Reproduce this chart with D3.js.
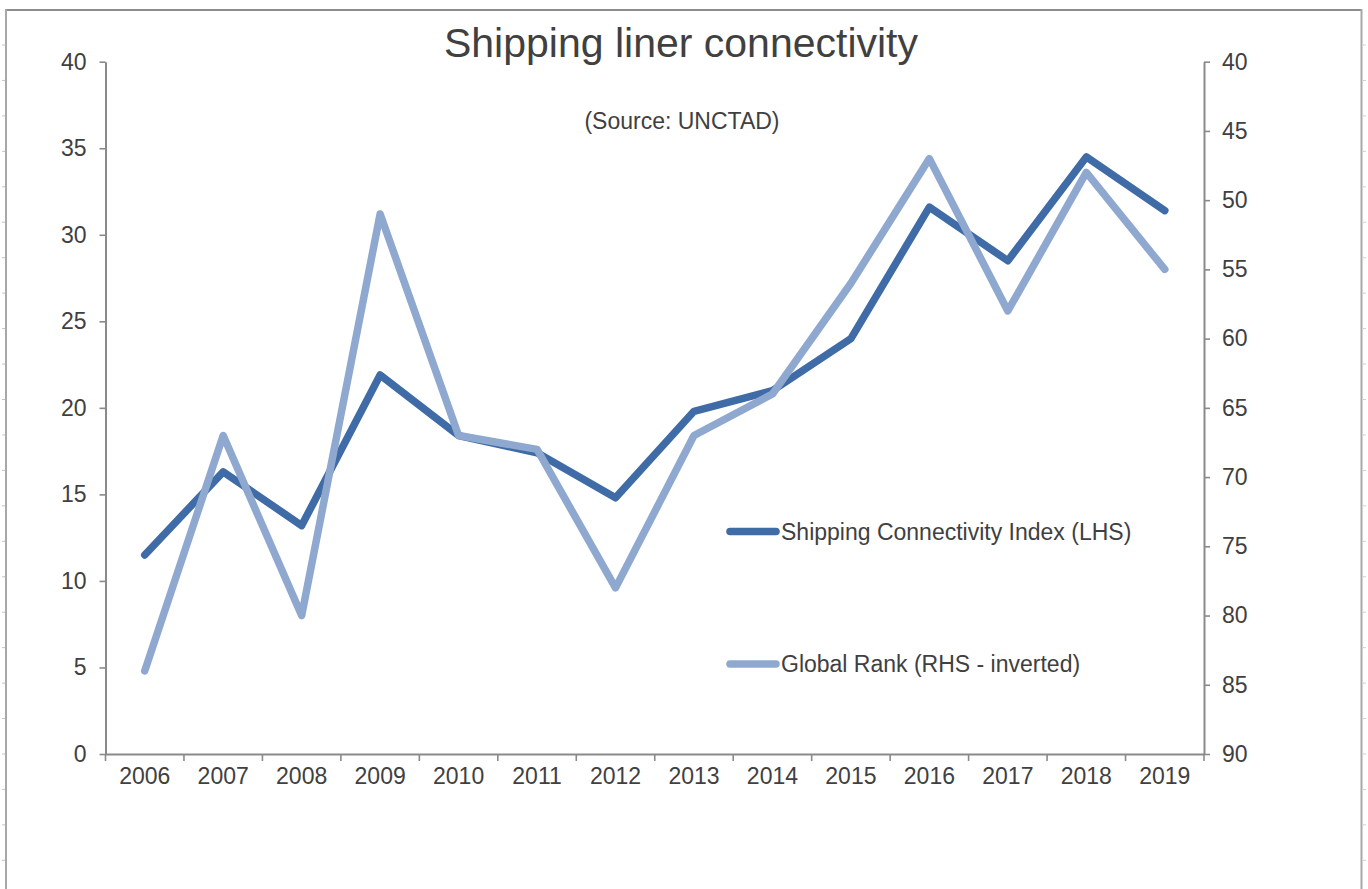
<!DOCTYPE html>
<html>
<head>
<meta charset="utf-8">
<title>Shipping liner connectivity</title>
<script src="https://cdn.jsdelivr.net/npm/d3@7"></script>
<style>
  html, body { margin: 0; padding: 0; background: #ffffff; }
  svg { display: block; }
  text { font-family: "Liberation Sans", Arial, Helvetica, sans-serif; fill: #404040; }
</style>
</head>
<body>
<svg id="chart" width="1368" height="889"></svg>
<script>
// Years on the category axis
const years = ["2006", "2007", "2008", "2009", "2010", "2011", "2012",
               "2013", "2014", "2015", "2016", "2017", "2018", "2019"];

// Liner Shipping Connectivity Index (left-hand scale)
const connectivityIndex = [11.5, 16.3, 13.2, 21.9, 18.4, 17.4, 14.8,
                           19.8, 21.0, 24.0, 31.6, 28.5, 34.5, 31.4];

// Global rank (right-hand scale, inverted)
const globalRank = [84, 67, 80, 51, 67, 68, 78, 67, 64, 56, 47, 58, 48, 55];

// Axis tick values
const leftTicks = [0, 5, 10, 15, 20, 25, 30, 35, 40];
const rightTicks = [40, 45, 50, 55, 60, 65, 70, 75, 80, 85, 90];

// Series names for the legend
const seriesNames = ["Shipping Connectivity Index (LHS)", "Global Rank (RHS - inverted)"];

const W = 1368, H = 889;
const plot = { left: 105.5, right: 1204, top: 61.7, bottom: 754 };
const darkBlue = "#3f6ba6";
const lightBlue = "#8fa8cf";
const axisGrey = "#8a8a8a";

const svg = d3.select("#chart");

// Page frame with ruler ticks along the side edges
const frame = svg.append("g");
frame.append("line").attr("x1", 6).attr("x2", 1362).attr("y1", 10).attr("y2", 10)
  .attr("stroke", "#8c8c8c").attr("stroke-width", 2);
frame.append("line").attr("x1", 6).attr("x2", 6).attr("y1", 9).attr("y2", H)
  .attr("stroke", "#a8a8a8").attr("stroke-width", 2);
frame.append("line").attr("x1", 1361.5).attr("x2", 1361.5).attr("y1", 9).attr("y2", H)
  .attr("stroke", "#a8a8a8").attr("stroke-width", 2);
const rulerY = d3.range(45, H, 35.45);
frame.selectAll(".rl").data(rulerY).join("line")
  .attr("x1", 2).attr("x2", 5).attr("y1", d => d).attr("y2", d => d)
  .attr("stroke", "#c4c4c4").attr("stroke-width", 1);
frame.selectAll(".rr").data(rulerY).join("line")
  .attr("x1", 1363).attr("x2", 1366).attr("y1", d => d).attr("y2", d => d)
  .attr("stroke", "#d0d0d0").attr("stroke-width", 1);

// Scales
const x = d3.scaleBand().domain(years).range([plot.left, plot.right]).padding(0);
const yLeft = d3.scaleLinear().domain([0, 40]).range([plot.bottom, plot.top]);
const yRight = d3.scaleLinear().domain([40, 90]).range([plot.top, plot.bottom]);
const cx = d => x(d) + x.bandwidth() / 2;

// Left axis
const gLeft = svg.append("g").attr("transform", `translate(${plot.left},0)`)
  .call(d3.axisLeft(yLeft).tickValues(leftTicks).tickSize(6).tickPadding(13).tickSizeOuter(0));
// Right axis
const gRight = svg.append("g").attr("transform", `translate(${plot.right},0)`)
  .call(d3.axisRight(yRight).tickValues(rightTicks).tickSize(6).tickPadding(12).tickSizeOuter(0));
// Bottom axis: labels centred in each band, ticks on band boundaries
const gBottom = svg.append("g").attr("transform", `translate(0,${plot.bottom})`)
  .call(d3.axisBottom(x).tickSize(0).tickPadding(14).tickSizeOuter(0));
const boundaries = years.map(y => x(y)).concat([plot.right]);
gBottom.selectAll(".bt").data(boundaries).join("line")
  .attr("x1", d => d).attr("x2", d => d).attr("y1", 0).attr("y2", 7)
  .attr("stroke", axisGrey).attr("stroke-width", 1.6);

[gLeft, gRight, gBottom].forEach(g => {
  g.select(".domain").attr("stroke", axisGrey).attr("stroke-width", 2);
  g.selectAll(".tick line").attr("stroke", axisGrey).attr("stroke-width", 1.6);
  g.selectAll(".tick text")
    .attr("font-family", "'Liberation Sans', Arial, Helvetica, sans-serif")
    .attr("font-size", 23).attr("fill", "#404040");
});

// Series lines
const lineLeft = d3.line().x((d, i) => cx(years[i])).y(d => yLeft(d));
const lineRight = d3.line().x((d, i) => cx(years[i])).y(d => yRight(d));

svg.append("path").datum(connectivityIndex)
  .attr("d", lineLeft).attr("fill", "none").attr("stroke", darkBlue)
  .attr("stroke-width", 7.5).attr("stroke-linecap", "round").attr("stroke-linejoin", "round");

svg.append("path").datum(globalRank)
  .attr("d", lineRight).attr("fill", "none").attr("stroke", lightBlue)
  .attr("stroke-width", 7.5).attr("stroke-linecap", "round").attr("stroke-linejoin", "round");

// Titles
svg.append("text").attr("x", 681).attr("y", 57).attr("text-anchor", "middle")
  .attr("font-size", 41).attr("fill", "#3a3a3a").text("Shipping liner connectivity");
svg.append("text").attr("x", 682).attr("y", 129).attr("text-anchor", "middle")
  .attr("font-size", 23).attr("fill", "#404040").text("(Source: UNCTAD)");

// Legend
const legend = svg.append("g");
const legendItems = [
  { name: seriesNames[0], color: darkBlue, y: 531.5 },
  { name: seriesNames[1], color: lightBlue, y: 664 }
];
legendItems.forEach(item => {
  legend.append("line").attr("x1", 730).attr("x2", 776)
    .attr("y1", item.y).attr("y2", item.y)
    .attr("stroke", item.color).attr("stroke-width", 7.5).attr("stroke-linecap", "round");
  legend.append("text").attr("x", 781).attr("y", item.y + 8)
    .attr("font-size", 23).attr("fill", "#404040").text(item.name);
});
</script>
</body>
</html>
